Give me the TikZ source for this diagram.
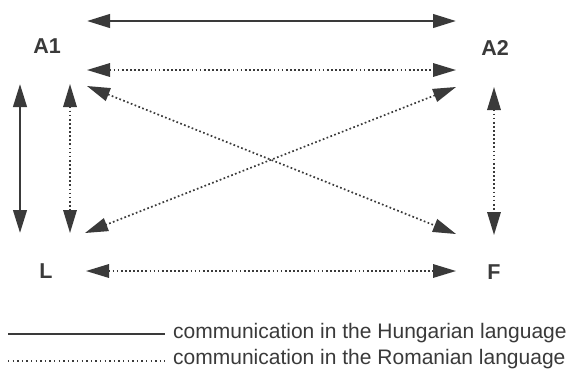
\documentclass[tikz,border=0pt]{standalone}
\usepackage{fontspec}
\setmainfont{Liberation Sans}
\usetikzlibrary{arrows.meta}
\definecolor{ink}{HTML}{3A3A3A}
\tikzset{
  lbl/.style={font=\fontsize{21.5}{24}\selectfont\bfseries, text=ink, inner sep=0pt, anchor=base},
  legtext/.style={font=\fontsize{21}{24}\selectfont, text=ink, inner sep=0pt, anchor=base west},
  hung/.style={draw=ink, line width=2.6pt, {Triangle[length=23pt, width=13.5pt]}-{Triangle[length=23pt, width=13.5pt]}},
  roman/.style={draw=ink, line width=1.7pt, dash pattern=on 1.7pt off 2.4pt,
    {Triangle[length=23pt, width=13.5pt]}-{Triangle[length=23pt, width=13.5pt]}},
  hungkey/.style={draw=ink, line width=2.4pt},
  romankey/.style={draw=ink, line width=1.4pt, dash pattern=on 1.4pt off 3.2pt},
}
\begin{document}
\begin{tikzpicture}[x=1pt, y=-1pt]
  \useasboundingbox[fill=white] (0,0) rectangle (570,368);

  % the four parties
  \node[lbl] (A1) at (47,53) {A1};
  \node[lbl] (A2) at (495,55) {A2};
  \node[lbl] (L)  at (46,278) {L};
  \node[lbl] (F)  at (494,279) {F};

  % arrow end points around the parties
  \coordinate (a1top)  at (87,21);
  \coordinate (a2top)  at (456,21);
  \coordinate (a1mid)  at (87,70);
  \coordinate (a2mid)  at (456,70);
  \coordinate (a1diag) at (87,86);
  \coordinate (a2diag) at (456,87);
  \coordinate (ldiag)  at (85,233);
  \coordinate (fdiag)  at (456,234);
  \coordinate (a1outer) at (20,84);
  \coordinate (louter)  at (20,233);
  \coordinate (a1inner) at (70,84);
  \coordinate (linner)  at (70,233);
  \coordinate (a2down) at (494,87);
  \coordinate (fup)    at (494,235);
  \coordinate (lright) at (86,271);
  \coordinate (fleft)  at (456,271);

  % Hungarian-language links
  \draw[hung] (a1top) -- (a2top);
  \draw[hung] (a1outer) -- (louter);

  % Romanian-language links
  \draw[roman] (a1mid) -- (a2mid);
  \draw[roman] (a1diag) -- (fdiag);
  \draw[roman] (a2diag) -- (ldiag);
  \draw[roman] (a1inner) -- (linner);
  \draw[roman] (a2down) -- (fup);
  \draw[roman] (lright) -- (fleft);

  % key
  \node[legtext] (hu) at (173,338) {communication in the Hungarian language};
  \node[legtext] (ro) at (173,364) {communication in the Romanian language};
  \coordinate (hukey) at (8,334);
  \coordinate (rokey) at (8,361);
  \draw[hungkey] (hukey) -- (hukey -| {165,0});
  \draw[romankey] (rokey) -- (rokey -| {165,0});
\end{tikzpicture}
\end{document}
